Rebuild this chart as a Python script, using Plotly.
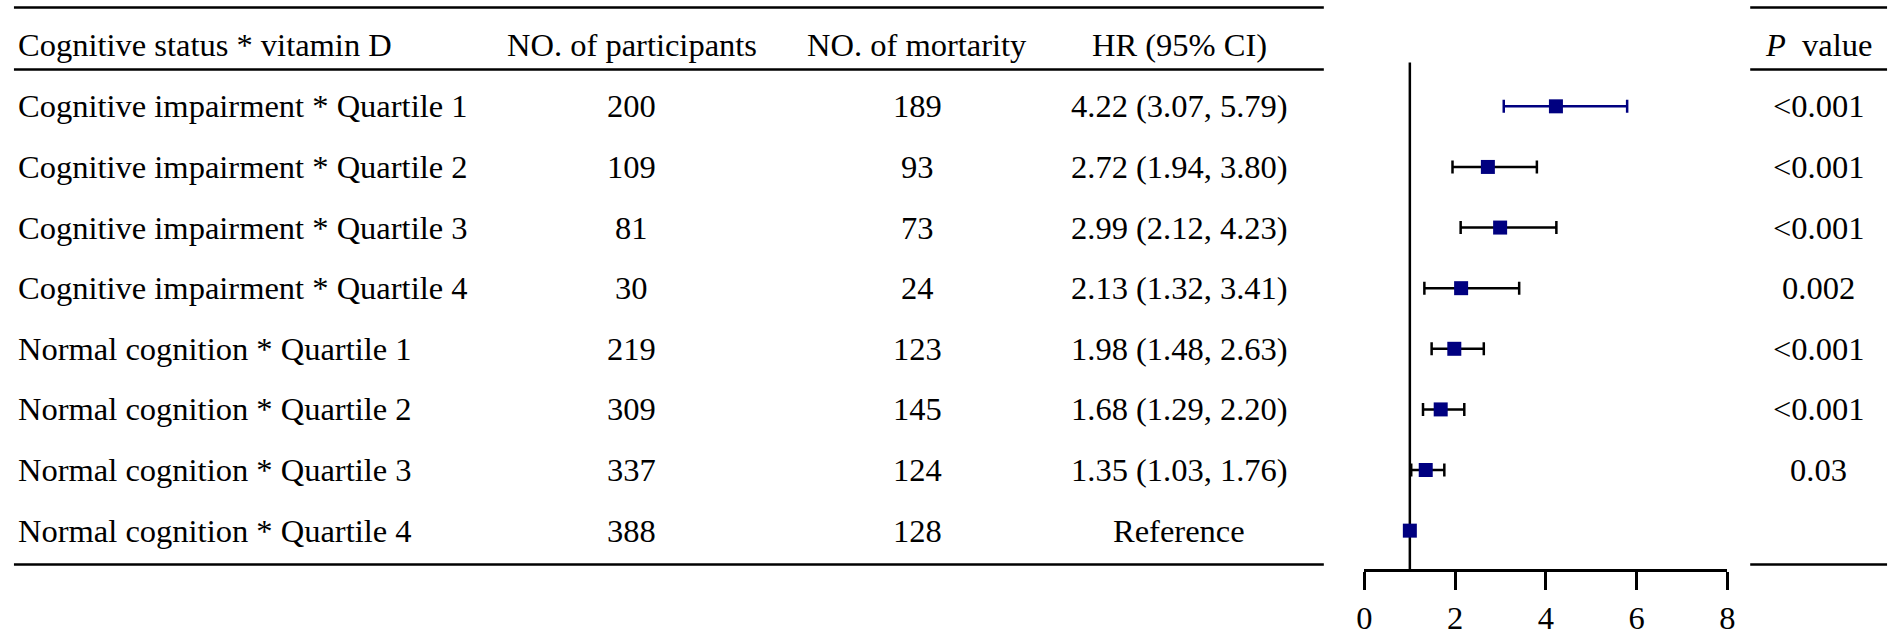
import plotly.graph_objects as go

# ---------------- data ----------------
groups = [
    "Cognitive impairment * Quartile 1",
    "Cognitive impairment * Quartile 2",
    "Cognitive impairment * Quartile 3",
    "Cognitive impairment * Quartile 4",
    "Normal cognition * Quartile 1",
    "Normal cognition * Quartile 2",
    "Normal cognition * Quartile 3",
    "Normal cognition * Quartile 4",
]
participants = [200, 109, 81, 30, 219, 309, 337, 388]
mortality = [189, 93, 73, 24, 123, 145, 124, 128]
hr = [4.22, 2.72, 2.99, 2.13, 1.98, 1.68, 1.35, 1.00]
ci_low = [3.07, 1.94, 2.12, 1.32, 1.48, 1.29, 1.03, None]
ci_high = [5.79, 3.80, 4.23, 3.41, 2.63, 2.20, 1.76, None]
p_values = ["<0.001", "<0.001", "<0.001", "0.002", "<0.001", "<0.001", "0.03", ""]
headers = ["Cognitive status * vitamin D", "NO. of participants",
           "NO. of mortarity", "HR (95% CI)", "<i>P</i>\u00a0 value"]
x_ticks = [0, 2, 4, 6, 8]

# ---------------- layout constants ----------------
W, H = 1901, 636
FONT = "Liberation Serif"
FS = 32.5
NAVY = "#000080"
LW = 2.5

def px(x):
    return x / W

def py(y):
    return 1 - y / H

row_pos = list(range(len(groups)))
row_top_px, row_step = 107, 61
axis_px, vline_top_px = 573, 63

fig = go.Figure()

for i, k in enumerate(row_pos):
    if ci_low[i] is not None:
        ecol = NAVY if i == 0 else "black"
        fig.add_trace(go.Scatter(
            x=[hr[i]], y=[k], mode="markers",
            marker=dict(symbol="square", size=14, color=NAVY, line=dict(width=0)),
            error_x=dict(type="data", symmetric=False,
                         array=[ci_high[i] - hr[i]], arrayminus=[hr[i] - ci_low[i]],
                         color=ecol, thickness=LW, width=6.5),
            showlegend=False, hoverinfo="skip", cliponaxis=False,
        ))
    else:
        fig.add_trace(go.Scatter(
            x=[hr[i]], y=[k], mode="markers",
            marker=dict(symbol="square", size=14, color=NAVY, line=dict(width=0)),
            showlegend=False, hoverinfo="skip", cliponaxis=False,
        ))

annotations = []
hdr_y = py(45)
col_x = [px(8), px(629), px(917), px(1181), px(1826)]
for j, h in enumerate(headers):
    annotations.append(dict(
        x=col_x[j], y=hdr_y, xref="paper", yref="paper", text=h, showarrow=False,
        xanchor="left" if j == 0 else "center", yanchor="middle",
        font=dict(family=FONT, size=FS, color="black")))

for i, k in enumerate(row_pos):
    hr_txt = ("Reference" if ci_low[i] is None
              else f"{hr[i]:.2f} ({ci_low[i]:.2f}, {ci_high[i]:.2f})")
    cells = [groups[i], str(participants[i]), str(mortality[i]), hr_txt, p_values[i]]
    for j, c in enumerate(cells):
        if not c:
            continue
        annotations.append(dict(
            x=col_x[j], y=k, xref="paper", yref="y", text=c, showarrow=False,
            xanchor="left" if j == 0 else "center", yanchor="middle",
            font=dict(family=FONT, size=FS, color="black")))

shapes = []
for ypx in (7.5, 70, 568):
    shapes.append(dict(type="line", xref="paper", yref="paper",
                       x0=px(6), x1=px(1327), y0=py(ypx), y1=py(ypx),
                       line=dict(color="black", width=LW)))
    shapes.append(dict(type="line", xref="paper", yref="paper",
                       x0=px(1757), x1=px(1895), y0=py(ypx), y1=py(ypx),
                       line=dict(color="black", width=LW)))
# reference line at HR = 1
shapes.append(dict(type="line", xref="x", yref="y domain", x0=1, x1=1, y0=0, y1=1,
                   line=dict(color="black", width=LW), layer="below"))

fig.update_layout(
    width=W, height=H,
    margin=dict(l=0, r=0, t=0, b=0),
    paper_bgcolor="white", plot_bgcolor="white",
    font=dict(family=FONT, size=FS, color="black"),
    xaxis=dict(domain=[px(1368), px(1734)], range=[0, 8],
               showline=True, linecolor="black", linewidth=LW,
               ticks="outside", ticklen=18, tickwidth=LW, tickcolor="black",
               tickvals=x_ticks, ticktext=[str(t) for t in x_ticks],
               tickfont=dict(family=FONT, size=FS, color="black"),
               showgrid=False, zeroline=False, fixedrange=True),
    yaxis=dict(domain=[py(axis_px), py(vline_top_px)],
               range=[(axis_px - row_top_px) / row_step, (vline_top_px - row_top_px) / row_step],
               visible=False, showgrid=False, zeroline=False, fixedrange=True),
    annotations=annotations,
    shapes=shapes,
    showlegend=False,
)

fig.write_html("out.html", config={"displayModeBar": False},
               post_script="document.body.style.margin='0';document.body.style.overflow='hidden';")
